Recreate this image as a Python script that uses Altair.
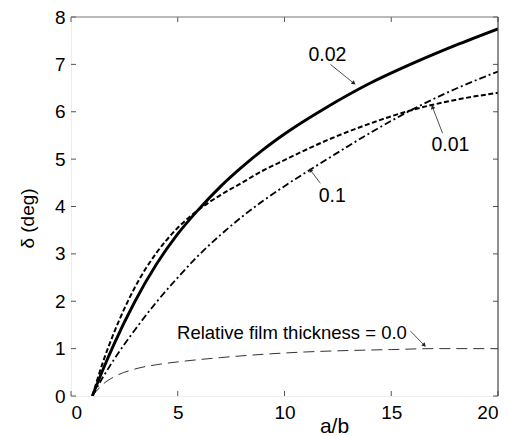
import math
import altair as alt
import pandas as pd

# ---- data -------------------------------------------------------------
ab = [1, 1.5, 2, 3, 4, 5, 6, 7, 8, 9, 10, 12, 14, 16, 18, 20]
delta_002 = [0, 0.56, 1.08, 2.0, 2.78, 3.42, 3.95, 4.42, 4.83, 5.2, 5.53, 6.1, 6.6, 7.02, 7.4, 7.75]
delta_001 = [0, 0.72, 1.32, 2.3, 3.02, 3.55, 3.94, 4.24, 4.5, 4.76, 4.98, 5.4, 5.75, 6.04, 6.25, 6.4]
delta_01 = [0, 0.4, 0.76, 1.4, 1.98, 2.5, 2.98, 3.4, 3.78, 4.12, 4.43, 5.0, 5.55, 6.05, 6.48, 6.85]

ab_0 = [1, 1.5, 2, 3, 4, 5, 7, 9, 11, 13, 15, 17, 20]
delta_0 = [0, 0.25, 0.4, 0.57, 0.66, 0.72, 0.81, 0.88, 0.93, 0.96, 0.98, 1.0, 1.0]

x_ticks = [0, 5, 10, 15, 20]
y_ticks = [0, 1, 2, 3, 4, 5, 6, 7, 8]

# annotation labels: text position, arrow tail and arrow tip (data units)
ann_text = ["0.02", "0.01", "0.1", "Relative film thickness = 0.0"]
ann_x = [12.01, 17.77, 12.24, 10.35]
ann_y = [7.19, 5.30, 4.22, 1.33]
ann_size = [19.5, 19.5, 19.5, 18.5]
arrow_x0 = [12.15, 17.40, 11.68, 15.90]
arrow_y0 = [7.00, 5.55, 4.49, 1.37]
arrow_x1 = [13.25, 16.93, 11.21, 16.55]
arrow_y1 = [6.60, 6.10, 4.77, 1.07]

W, H = 427, 379
FONT = "Liberation Sans"
TICK = "#555555"

x_scale = alt.Scale(domain=[0, 20], nice=False)
y_scale = alt.Scale(domain=[0, 8], nice=False)

x_axis = alt.Axis(values=x_ticks, tickSize=0, grid=False, domainColor="#ededed",
                  labelFontSize=19, labelPadding=7, labelFont=FONT, labelColor="black",
                  title="a/b", titleFont=FONT, titleFontSize=21, titleFontWeight="normal",
                  titleColor="black", titleX=263, titleY=36, titleAlign="center",
                  titleBaseline="alphabetic", titleAnchor="start")
y_axis = alt.Axis(values=y_ticks, tickSize=0, grid=False, domainColor="#ededed",
                  labelFontSize=19, labelPadding=6, labelFont=FONT, labelColor="black",
                  title="δ (deg)", titleFont=FONT, titleFontSize=19, titleFontWeight="normal",
                  titleColor="black", titleAngle=270, titleX=-44, titleY=201,
                  titleAlign="center", titleBaseline="middle", titleAnchor="start")


def curve(xs, ys, width, dash=None, color="black"):
    df = pd.DataFrame({"ab": xs, "delta": ys})
    kw = dict(color=color, strokeWidth=width, interpolate="monotone", clip=True)
    if dash:
        kw["strokeDash"] = dash
    return alt.Chart(df).mark_line(**kw).encode(
        x=alt.X("ab:Q", scale=x_scale, axis=x_axis),
        y=alt.Y("delta:Q", scale=y_scale, axis=y_axis),
    )


lines = [
    curve(ab_0, delta_0, 1.0, [11, 6], "#333333"),
    curve(ab, delta_01, 1.8, [7, 3, 2, 3]),
    curve(ab, delta_001, 2.0, [5, 2.5]),
    curve(ab, delta_002, 2.9),
]

# inward tick marks on all four sides, plus top and right frame lines
xt = pd.DataFrame({"v": x_ticks})
yt = pd.DataFrame({"v": y_ticks})
ticks = [
    alt.Chart(xt).mark_rule(color=TICK, strokeWidth=1).encode(
        x=alt.X("v:Q", scale=x_scale), y=alt.value(H), y2=alt.value(H - 5)),
    alt.Chart(xt).mark_rule(color=TICK, strokeWidth=1).encode(
        x=alt.X("v:Q", scale=x_scale), y=alt.value(0), y2=alt.value(5)),
    alt.Chart(yt).mark_rule(color=TICK, strokeWidth=1).encode(
        y=alt.Y("v:Q", scale=y_scale), x=alt.value(0), x2=alt.value(5)),
    alt.Chart(yt).mark_rule(color=TICK, strokeWidth=1).encode(
        y=alt.Y("v:Q", scale=y_scale), x=alt.value(W), x2=alt.value(W - 5)),
]
frame = [
    alt.Chart(xt.head(1)).mark_rule(color="#777777", strokeWidth=1).encode(
        x=alt.value(0), x2=alt.value(W), y=alt.value(0)),
    alt.Chart(xt.head(1)).mark_rule(color="#444444", strokeWidth=1.2).encode(
        x=alt.value(W), y=alt.value(0), y2=alt.value(H)),
]

# annotations
ann = pd.DataFrame({
    "label": ann_text, "tx": ann_x, "ty": ann_y, "fs": ann_size,
    "x0": arrow_x0, "y0": arrow_y0, "x1": arrow_x1, "y1": arrow_y1,
})
ann["angle"] = [
    math.degrees(math.atan2((b - a) * W / 20, (d - c) * H / 8)) % 360
    for a, b, c, d in zip(ann.x0, ann.x1, ann.y0, ann.y1)
]

texts = alt.Chart(ann).mark_text(font=FONT, color="black", align="center",
                                 baseline="middle").encode(
    x=alt.X("tx:Q", scale=x_scale), y=alt.Y("ty:Q", scale=y_scale),
    text="label:N", size=alt.Size("fs:Q", scale=None, legend=None))
shafts = alt.Chart(ann).mark_rule(color="#222222", strokeWidth=0.8).encode(
    x=alt.X("x0:Q", scale=x_scale), y=alt.Y("y0:Q", scale=y_scale),
    x2="x1:Q", y2="y1:Q")
heads = alt.Chart(ann).mark_point(shape="triangle-up", filled=True, color="#222222",
                                  size=22, opacity=1).encode(
    x=alt.X("x1:Q", scale=x_scale), y=alt.Y("y1:Q", scale=y_scale),
    angle=alt.Angle("angle:Q", scale=None))

chart = alt.layer(*lines, *ticks, *frame, shafts, heads, texts).properties(
    width=W, height=H,
    autosize=alt.AutoSizeParams(type="none"),
    padding={"left": 71, "top": 17, "right": 11, "bottom": 40},
    background="white",
).configure_view(stroke=None)

chart.save("out.html", embed_options={"renderer": "svg", "actions": False})
